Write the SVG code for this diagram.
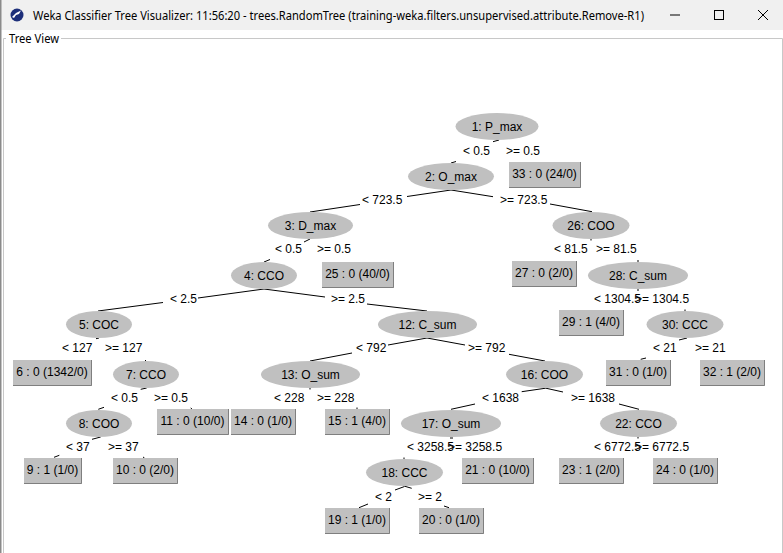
<svg xmlns="http://www.w3.org/2000/svg" width="783" height="553" viewBox="0 0 783 553">
<style>
text{font-family:"Liberation Sans",Arial,sans-serif;font-size:12px;fill:#000}
.c{text-anchor:middle}
.ui{font-family:"Noto Sans","Open Sans",sans-serif}
.n{fill:#c0c0c0}
.s{fill:none;stroke:#7f7f7f;stroke-width:1}
.h{fill:none;stroke:#e4e4e4;stroke-width:1}
#connectors path{fill:none;stroke:#000;stroke-width:1}
</style>
<rect width="783" height="553" fill="#fff"/>
<rect width="783" height="30" fill="#f0f0f0"/>
<rect x="0" y="0" width="1.5" height="553" fill="#8a8a8a"/>
<g id="titlebar">
<circle cx="17" cy="15" r="6.5" fill="#1d2f7a"/>
<path d="M12 17 L16 13 L21 10.500 L19 14 L16 15 L14 18Z" fill="#fff"/>
<text class="ui" x="33" y="19.500" textLength="611" lengthAdjust="spacingAndGlyphs">Weka Classifier Tree Visualizer: 11:56:20 - trees.RandomTree (training-weka.filters.unsupervised.attribute.Remove-R1)</text>
<path d="M670 15H680" stroke="#000" fill="none"/>
<rect x="714.500" y="10.500" width="9" height="9" fill="none" stroke="#000"/>
<path d="M758 10L768 20M768 10L758 20" stroke="#000" fill="none"/>
</g>
<path d="M6 38.500H3.500V553M61 38.500H782.500V553" fill="none" stroke="#c8c8c8"/>
<text class="ui" x="9" y="43" textLength="50" lengthAdjust="spacingAndGlyphs">Tree View</text>
<g id="connectors">
<path d="M493 141.700L499 140M451 163L456 161.500"/>
<path d="M451 190L407 196.500M360 204.500L310 212"/>
<path d="M451 190L493 196.700M550 204L592 211.700"/>
<path d="M310 239L304 242M270 259.500L264 262"/>
<path d="M591 239V240.500M638 260V262"/>
<path d="M638 289V291M685 309.500V311"/>
<path d="M679 340L687 338M640.700 359.300L646 358"/>
<path d="M264 289L198 298M163 302.500L98 311"/>
<path d="M264 289L325 297M367 304L427 311"/>
<path d="M96 338.700L99 338M145.500 360V361.500"/>
<path d="M140.700 389.300L146.700 388M98.300 409.300L104 407.300"/>
<path d="M190.700 408L192 409"/>
<path d="M92 439.300L100.700 437M54 457.300L59.300 455.300"/>
<path d="M143 457L144.500 458"/>
<path d="M427 338L388 345M352 353L310 361"/>
<path d="M427 338L465 345M509 354.300L545 361"/>
<path d="M310 388V389.500M357 407.500V409"/>
<path d="M521.700 391.700L545 388.300M451 409.300L475 404"/>
<path d="M545 388L563 392M619 404L639 409.300"/>
<path d="M450 438H453M404 457.500V459"/>
<path d="M638 437V438.500"/>
<path d="M395 490L404 486.700M359 507.700L368 504"/>
<path d="M404 486L411.700 488.300M444 506L449 507.700"/>
</g>
<g id="edge-labels">
<text x="463" y="154.500">&lt; 0.5</text><text x="506" y="154.500">&gt;= 0.5</text>
<text x="362" y="203.500">&lt; 723.5</text><text x="500" y="203.500">&gt;= 723.5</text>
<text x="275" y="253">&lt; 0.5</text><text x="317" y="253">&gt;= 0.5</text>
<text x="554" y="253">&lt; 81.5</text><text x="596" y="253">&gt;= 81.5</text>
<text x="594" y="302.500">&lt; 1304.5</text><text x="635" y="302.500">&gt;= 1304.5</text>
<text x="170" y="302.500">&lt; 2.5</text><text x="331" y="302.500">&gt;= 2.5</text>
<text x="62" y="352">&lt; 127</text><text x="105" y="352">&gt;= 127</text>
<text x="356" y="352">&lt; 792</text><text x="468" y="352">&gt;= 792</text>
<text x="653" y="352">&lt; 21</text><text x="695" y="352">&gt;= 21</text>
<text x="111" y="401.500">&lt; 0.5</text><text x="154" y="401.500">&gt;= 0.5</text>
<text x="274" y="401.500">&lt; 228</text><text x="317" y="401.500">&gt;= 228</text>
<text x="482" y="401.500">&lt; 1638</text><text x="571" y="401.500">&gt;= 1638</text>
<text x="66" y="450.500">&lt; 37</text><text x="108" y="450.500">&gt;= 37</text>
<text x="407" y="450.500">&lt; 3258.5</text><text x="448" y="450.500">&gt;= 3258.5</text>
<text x="594" y="450.500">&lt; 6772.5</text><text x="635" y="450.500">&gt;= 6772.5</text>
<text x="375" y="500.500">&lt; 2</text><text x="418" y="500.500">&gt;= 2</text>
</g>
<g id="node1"><ellipse class="n" cx="497" cy="126.500" rx="41.500" ry="13.500"/><text class="c" x="497" y="131">1: P_max</text></g>
<g id="node2"><ellipse class="n" cx="451" cy="176.500" rx="43" ry="13.500"/><text class="c" x="451" y="181">2: O_max</text></g>
<g id="node3"><ellipse class="n" cx="310.500" cy="225.500" rx="42.500" ry="13.500"/><text class="c" x="310.500" y="230">3: D_max</text></g>
<g id="node4"><ellipse class="n" cx="264" cy="275.500" rx="33" ry="13.500"/><text class="c" x="264" y="280">4: CCO</text></g>
<g id="node5"><ellipse class="n" cx="99" cy="324.500" rx="33" ry="13.500"/><text class="c" x="99" y="329">5: COC</text></g>
<g id="node7"><ellipse class="n" cx="146" cy="374.500" rx="33" ry="13.500"/><text class="c" x="146" y="379">7: CCO</text></g>
<g id="node8"><ellipse class="n" cx="99" cy="423.500" rx="33" ry="13.500"/><text class="c" x="99" y="428">8: COO</text></g>
<g id="node12"><ellipse class="n" cx="427.500" cy="324.500" rx="49.500" ry="13.500"/><text class="c" x="427.500" y="329">12: C_sum</text></g>
<g id="node13"><ellipse class="n" cx="310.500" cy="374.500" rx="49.500" ry="13.500"/><text class="c" x="310.500" y="379">13: O_sum</text></g>
<g id="node16"><ellipse class="n" cx="544.500" cy="374.500" rx="38.500" ry="13.500"/><text class="c" x="544.500" y="379">16: COO</text></g>
<g id="node17"><ellipse class="n" cx="451" cy="423.500" rx="50" ry="13.500"/><text class="c" x="451" y="428">17: O_sum</text></g>
<g id="node18"><ellipse class="n" cx="404.500" cy="472.500" rx="38.500" ry="13.500"/><text class="c" x="404.500" y="477">18: CCC</text></g>
<g id="node22"><ellipse class="n" cx="638.500" cy="423.500" rx="38.500" ry="13.500"/><text class="c" x="638.500" y="428">22: CCO</text></g>
<g id="node26"><ellipse class="n" cx="591" cy="225.500" rx="38.500" ry="13.500"/><text class="c" x="591" y="230">26: COO</text></g>
<g id="node28"><ellipse class="n" cx="638" cy="275.500" rx="50" ry="13.500"/><text class="c" x="638" y="280">28: C_sum</text></g>
<g id="node30"><ellipse class="n" cx="685" cy="324.500" rx="38.500" ry="13.500"/><text class="c" x="685" y="329">30: CCC</text></g>
<g id="leaf33"><rect class="n" x="509" y="162" width="72" height="26"/><path class="s" d="M509 187.500H580.500V162"/><text class="c" x="544.500" y="178">33 : 0 (24/0)</text></g>
<g id="leaf25"><rect class="n" x="322" y="262" width="72" height="26"/><path class="s" d="M322 287.500H393.500V262"/><text class="c" x="357.500" y="278">25 : 0 (40/0)</text></g>
<g id="leaf27"><rect class="n" x="512" y="261" width="65" height="26"/><path class="s" d="M512 286.500H576.500V261"/><text class="c" x="544" y="277">27 : 0 (2/0)</text></g>
<g id="leaf29"><rect class="n" x="559" y="310" width="65" height="26"/><path class="s" d="M559 335.500H623.500V310"/><text class="c" x="591" y="326">29 : 1 (4/0)</text></g>
<g id="leaf31"><rect class="n" x="606" y="360" width="65" height="26"/><path class="s" d="M606 385.500H670.500V360"/><text class="c" x="638" y="376">31 : 0 (1/0)</text></g>
<g id="leaf32"><rect class="n" x="700" y="360" width="65" height="26"/><path class="s" d="M700 385.500H764.500V360"/><text class="c" x="732" y="376">32 : 1 (2/0)</text></g>
<g id="leaf6"><rect class="n" x="13" y="360" width="79" height="26"/><path class="s" d="M13 385.500H91.500V360"/><text class="c" x="52" y="376">6 : 0 (1342/0)</text></g>
<g id="leaf11"><rect class="n" x="157" y="409" width="72" height="26"/><path class="s" d="M157 434.500H228.500V409"/><text class="c" x="192.500" y="425">11 : 0 (10/0)</text></g>
<g id="leaf14"><rect class="n" x="231" y="409" width="65" height="26"/><path class="s" d="M231 434.500H295.500V409"/><text class="c" x="263" y="425">14 : 0 (1/0)</text></g>
<g id="leaf15"><rect class="n" x="325" y="409" width="65" height="26"/><path class="s" d="M325 434.500H389.500V409"/><text class="c" x="357" y="425">15 : 1 (4/0)</text></g>
<g id="leaf9"><rect class="n" x="24" y="458" width="58" height="26"/><path class="s" d="M24 483.500H81.500V458"/><text class="c" x="52.500" y="474">9 : 1 (1/0)</text></g>
<g id="leaf10"><rect class="n" x="113" y="458" width="65" height="26"/><path class="s" d="M113 483.500H177.500V458"/><text class="c" x="145" y="474">10 : 0 (2/0)</text></g>
<g id="leaf21"><rect class="n" x="462" y="458" width="72" height="26"/><path class="s" d="M462 483.500H533.500V458"/><text class="c" x="497.500" y="474">21 : 0 (10/0)</text></g>
<g id="leaf23"><rect class="n" x="559" y="458" width="65" height="26"/><path class="s" d="M559 483.500H623.500V458"/><text class="c" x="591" y="474">23 : 1 (2/0)</text></g>
<g id="leaf24"><rect class="n" x="653" y="458" width="65" height="26"/><path class="s" d="M653 483.500H717.500V458"/><text class="c" x="685" y="474">24 : 0 (1/0)</text></g>
<g id="leaf19"><rect class="n" x="325" y="508" width="65" height="26"/><path class="s" d="M325 533.500H389.500V508"/><text class="c" x="357" y="524">19 : 1 (1/0)</text></g>
<g id="leaf20"><rect class="n" x="419" y="508" width="65" height="26"/><path class="s" d="M419 533.500H483.500V508"/><text class="c" x="451" y="524">20 : 0 (1/0)</text></g>
</svg>
